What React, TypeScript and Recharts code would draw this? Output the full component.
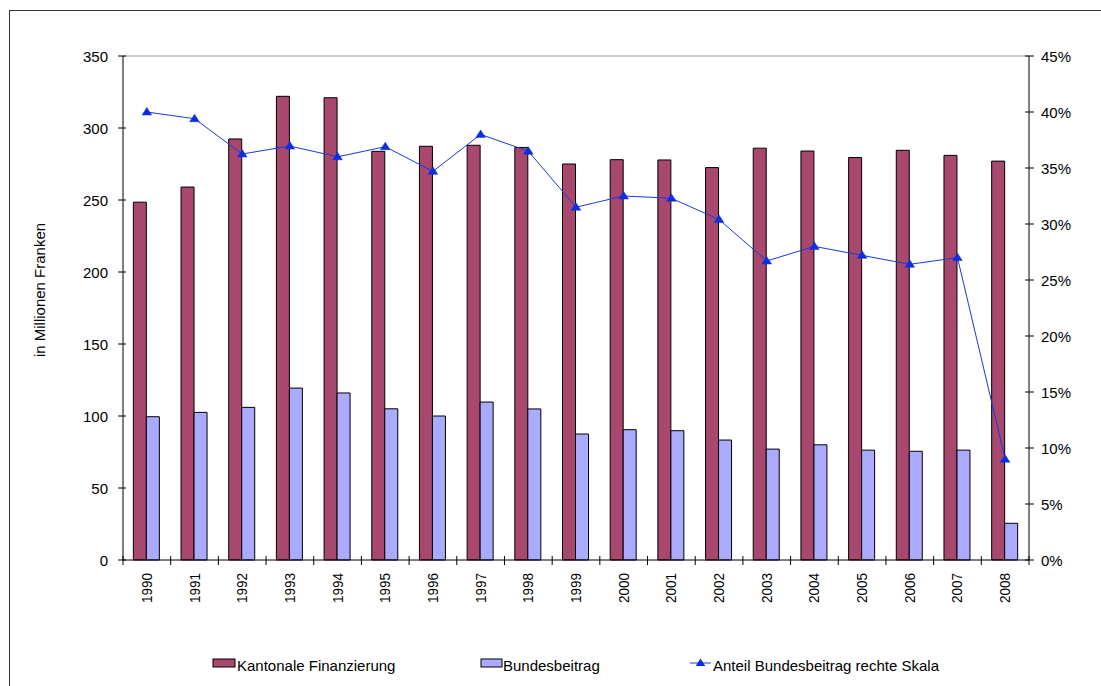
import React from "react";
import {
  ComposedChart,
  Bar,
  Line,
  XAxis,
  YAxis,
  ReferenceLine,
} from "recharts";

const years = [
  "1990", "1991", "1992", "1993", "1994", "1995", "1996", "1997", "1998", "1999",
  "2000", "2001", "2002", "2003", "2004", "2005", "2006", "2007", "2008",
];
const kantonal = [248.5, 259, 292.4, 322, 321, 283.8, 287.3, 288, 286.5, 275, 278, 277.8, 272.5, 286, 284, 279.5, 284.5, 281, 277];
const bund = [99.5, 102.5, 106, 119.4, 116, 105, 100, 109.7, 104.9, 87.5, 90.5, 89.8, 83.3, 77, 80, 76.3, 75.5, 76.3, 25.5];
const anteil = [40.0, 39.4, 36.25, 36.96, 36.0, 36.9, 34.7, 38.0, 36.5, 31.5, 32.5, 32.3, 30.4, 26.7, 28.0, 27.2, 26.4, 27.0, 9.0];
const leftTicks = [0, 50, 100, 150, 200, 250, 300, 350];
const rightTicks = [0, 5, 10, 15, 20, 25, 30, 35, 40, 45];

const data = years.map((y, i) => ({
  year: y,
  kantonal: kantonal[i],
  bund: bund[i],
  anteil: anteil[i],
}));

const W = 1101;
const H = 686;
const margin = { top: 56, right: 12, bottom: 76, left: 63 };
const AXIS_W = 60;
const PLOT_W = W - margin.left - margin.right - 2 * AXIS_W;
const BAND = PLOT_W / years.length;

const FONT = "'Liberation Sans', Arial, sans-serif";
const KANTON_COLOR = "#A8486F";
const BUND_COLOR = "#AAAAFF";
const LINE_COLOR = "#1a3ae0";
const MARKER_COLOR = "#0a2ee6";

const XTick = (props: any) => {
  const { x, y, payload, index } = props;
  return (
    <g>
      <line x1={x - BAND / 2} x2={x - BAND / 2} y1={y - 4} y2={y + 5} stroke="#000" />
      {index === years.length - 1 && (
        <line x1={x + BAND / 2} x2={x + BAND / 2} y1={y - 4} y2={y + 5} stroke="#000" />
      )}
      <text
        x={x + 5}
        y={y + 13}
        transform={`rotate(-90 ${x + 5} ${y + 13})`}
        textAnchor="end"
        fontFamily={FONT}
        fontSize={15}
        fill="#000"
        textLength={30}
        lengthAdjust="spacingAndGlyphs"
      >
        {payload.value}
      </text>
    </g>
  );
};

const LeftTick = (props: any) => {
  const { x, y, payload } = props;
  return (
    <g>
      <line x1={x - 5} x2={x + 3} y1={y} y2={y} stroke="#000" />
      <text x={x - 15} y={y + 5.5} textAnchor="end" fontFamily={FONT} fontSize={15} fill="#000">
        {payload.value}
      </text>
    </g>
  );
};

const RightTick = (props: any) => {
  const { x, y, payload } = props;
  return (
    <g>
      <line x1={x - 4} x2={x + 5} y1={y} y2={y} stroke="#000" />
      <text x={x + 12} y={y + 5.5} textAnchor="start" fontFamily={FONT} fontSize={15} fill="#000">
        {`${payload.value}%`}
      </text>
    </g>
  );
};

const Triangle = (props: any) => {
  const { cx, cy, index } = props;
  if (cx == null || cy == null) return <g key={`t${index}`} />;
  return (
    <polygon
      key={`t${index}`}
      points={`${cx},${cy - 4.5} ${cx - 4.8},${cy + 3} ${cx + 4.8},${cy + 3}`}
      fill={MARKER_COLOR}
      stroke={MARKER_COLOR}
      strokeWidth={0.5}
    />
  );
};

export default function App() {
  return (
    <div
      style={{
        position: "absolute",
        left: 0,
        top: 0,
        width: W,
        height: H,
        overflow: "hidden",
        background: "#fff",
      }}
    >
      <div
        style={{
          position: "absolute",
          left: 9,
          top: 10,
          width: W + 20,
          height: H + 20,
          borderTop: "1px solid #333",
          borderLeft: "1px solid #333",
        }}
      />
      <div style={{ position: "absolute", left: 0, top: 0 }}>
        <ComposedChart
          width={W}
          height={H}
          data={data}
          margin={margin}
          barCategoryGap="21.7%"
          barGap={0}
        >
          <XAxis
            dataKey="year"
            xAxisId="x"
            interval={0}
            tickSize={0}
            tickMargin={0}
            tickLine={false}
            axisLine={{ stroke: "#000" }}
            tick={<XTick />}
            height={50}
          />
          <YAxis
            yAxisId="left"
            orientation="left"
            domain={[0, 350]}
            ticks={leftTicks}
            width={AXIS_W}
            tickSize={0}
            tickMargin={0}
            tickLine={false}
            axisLine={{ stroke: "#000" }}
            tick={<LeftTick />}
            interval={0}
          />
          <YAxis
            yAxisId="right"
            orientation="right"
            domain={[0, 45]}
            ticks={rightTicks}
            width={AXIS_W}
            tickSize={0}
            tickMargin={0}
            tickLine={false}
            axisLine={{ stroke: "#000" }}
            tick={<RightTick />}
            interval={0}
          />
          <ReferenceLine yAxisId="left" xAxisId="x" y={350} stroke="#a0a0a0" strokeWidth={1} />
          <Bar
            dataKey="kantonal"
            xAxisId="x"
            yAxisId="left"
            fill={KANTON_COLOR}
            stroke="#000"
            strokeWidth={1}
            isAnimationActive={false}
          />
          <Bar
            dataKey="bund"
            xAxisId="x"
            yAxisId="left"
            fill={BUND_COLOR}
            stroke="#000"
            strokeWidth={1}
            isAnimationActive={false}
          />
          <Line
            dataKey="anteil"
            xAxisId="x"
            yAxisId="right"
            type="linear"
            stroke={LINE_COLOR}
            strokeWidth={1}
            dot={<Triangle />}
            activeDot={false}
            isAnimationActive={false}
          />
        </ComposedChart>
      </div>
      <svg
        width={W}
        height={H}
        style={{ position: "absolute", left: 0, top: 0, pointerEvents: "none" }}
      >
        <text
          x={45}
          y={290}
          transform="rotate(-90 45 290)"
          textAnchor="middle"
          fontFamily={FONT}
          fontSize={15}
          fill="#000"
        >
          in Millionen Franken
        </text>
        <rect x={213} y={659} width={22} height={8} fill={KANTON_COLOR} stroke="#000" />
        <text x={237} y={671} fontFamily={FONT} fontSize={15} fill="#000">
          Kantonale Finanzierung
        </text>
        <rect x={481} y={659} width={21} height={8} fill={BUND_COLOR} stroke="#000" />
        <text x={503} y={671} fontFamily={FONT} fontSize={15} fill="#000">
          Bundesbeitrag
        </text>
        <line x1={690} x2={711} y1={663} y2={663} stroke={LINE_COLOR} />
        <polygon points="700.5,658.5 695.7,666 705.3,666" fill={MARKER_COLOR} />
        <text x={713} y={671} fontFamily={FONT} fontSize={15} fill="#000">
          Anteil Bundesbeitrag rechte Skala
        </text>
      </svg>
    </div>
  );
}
